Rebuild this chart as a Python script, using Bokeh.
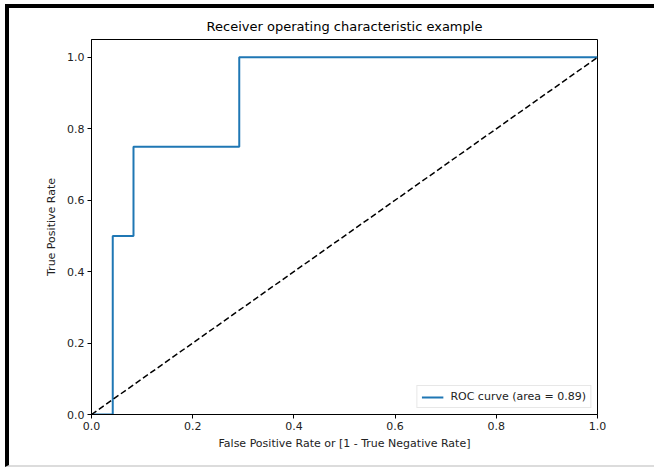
import numpy as np
from bokeh.plotting import figure
from bokeh.models import FixedTicker, PrintfTickFormatter, Legend, LegendItem, Range1d
from bokeh.embed import file_html
from bokeh.resources import INLINE

# ROC curve points (false positive rate, true positive rate)
fpr = [0.0, 0.042, 0.042, 0.083, 0.083, 0.292, 0.292, 1.0]
tpr = [0.0, 0.0, 0.5, 0.5, 0.75, 0.75, 1.0, 1.0]
chance_x = [0.0, 1.0]
chance_y = [0.0, 1.0]
tick_values = [0.0, 0.2, 0.4, 0.6, 0.8, 1.0]

roc_auc = float(np.trapezoid(tpr, fpr))

FONT = "DejaVu Sans"

p = figure(
    width=649, height=463,
    output_backend="svg", toolbar_location=None,
    title="Receiver operating characteristic example",
    x_range=Range1d(0.0, 1.0), y_range=Range1d(0.0, 1.05),
    min_border_left=82, min_border_right=61,
    min_border_top=31, min_border_bottom=57,
)
p.styles = {
    "margin": "4px 0 0 5px",
    "border-top": "4px solid black",
    "border-left": "4px solid black",
    "border-bottom": "2px solid #dcdcdc",
}

p.background_fill_color = "white"
p.border_fill_color = "white"
p.outline_line_color = "black"
p.outline_line_width = 1
p.grid.visible = False

p.title.text_font = FONT
p.title.text_font_size = "13px"
p.title.text_font_style = "normal"
p.title.align = "center"
p.title.text_color = "black"
p.title.standoff = 11

for ax in (p.xaxis, p.yaxis):
    ax.ticker = FixedTicker(ticks=tick_values)
    ax.formatter = PrintfTickFormatter(format="%.1f")
    ax.major_label_text_font = FONT
    ax.major_label_text_font_size = "11px"
    ax.major_label_text_color = "#222222"
    ax.axis_label_text_font = FONT
    ax.axis_label_text_font_size = "11px"
    ax.axis_label_text_font_style = "normal"
    ax.axis_label_text_color = "#222222"
    ax.axis_line_color = "black"
    ax.major_tick_line_color = "black"
    ax.major_tick_in = 0
    ax.major_tick_out = 4
    ax.minor_tick_line_color = None
    ax.major_label_standoff = 3

p.xaxis.axis_label = "False Positive Rate or [1 - True Negative Rate]"
p.yaxis.axis_label = "True Positive Rate"
p.xaxis.axis_label_standoff = 4
p.yaxis.axis_label_standoff = 6

roc = p.line(fpr, tpr, line_color="#1f77b4", line_width=2)
p.line(chance_x, chance_y, line_color="black", line_width=1.5, line_dash="6 3")

legend = Legend(
    items=[LegendItem(label="ROC curve (area = %0.2f)" % roc_auc, renderers=[roc])],
    location="bottom_right",
    label_text_font=FONT,
    label_text_font_size="11px",
    label_text_color="#222222",
    border_line_color="#d0d0d0",
    border_line_width=1,
    background_fill_color="white",
    background_fill_alpha=0.8,
    glyph_width=22,
    glyph_height=12,
    label_standoff=7,
    padding=4,
    margin=6,
    spacing=0,
)
p.add_layout(legend)

open("out.html", "w").write(file_html(p, INLINE))
